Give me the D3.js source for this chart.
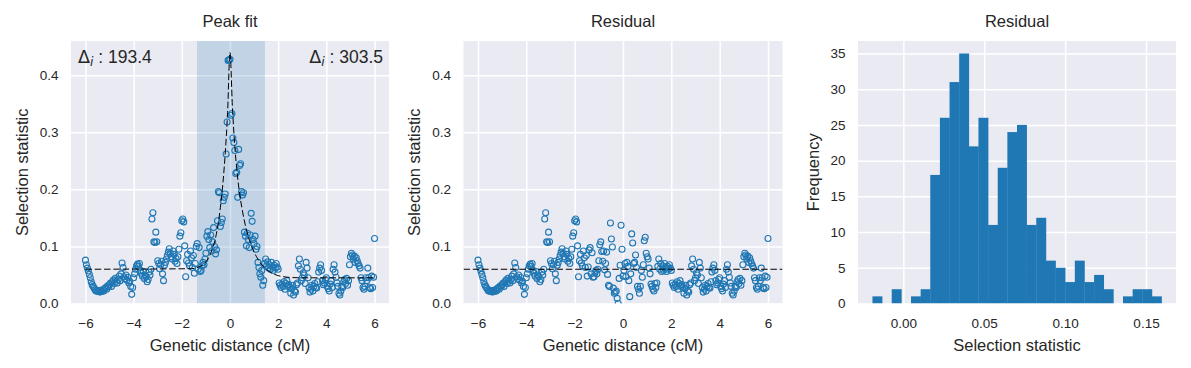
<!DOCTYPE html>
<html><head><meta charset="utf-8">
<script src="https://cdn.jsdelivr.net/npm/d3@7"></script>
<style>
html,body{margin:0;padding:0;background:#fff;}
svg{display:block;font-family:"Liberation Sans",Arial,sans-serif;}
</style></head><body>
<svg id="chart" width="1191" height="368"></svg>
<script>
// ---------------- data ----------------
const distanceCM = [
-6,-5.96,-5.92,-5.88,-5.84,-5.8,-5.76,-5.72,-5.68,-5.64,-5.6,-5.56,-5.52,-5.48,-5.44,-5.4,-5.36,-5.32,-5.28,-5.24,-5.2,-5.16,-5.12,-5.08,-5.04,
-5,-4.96,-4.92,-4.88,-4.84,-4.8,-4.76,-4.72,-4.68,-4.64,-4.6,-4.56,-4.52,-4.48,-4.44,-4.4,-4.36,-4.32,-4.28,-4.24,-4.2,-4.16,-4.12,-4.08,-4.04,
-4,-3.96,-3.92,-3.88,-3.84,-3.8,-3.76,-3.72,-3.68,-3.64,-3.6,-3.56,-3.52,-3.48,-3.44,-3.4,-3.36,-3.32,-3.28,-3.24,-3.2,-3.16,-3.12,-3.08,-3.04,
-3,-2.96,-2.92,-2.88,-2.84,-2.8,-2.76,-2.72,-2.68,-2.64,-2.6,-2.56,-2.52,-2.48,-2.44,-2.4,-2.36,-2.32,-2.28,-2.24,-2.2,-2.16,-2.12,-2.08,-2.04,
-2,-1.96,-1.92,-1.88,-1.84,-1.8,-1.76,-1.72,-1.68,-1.64,-1.6,-1.56,-1.52,-1.48,-1.44,-1.4,-1.36,-1.32,-1.28,-1.24,-1.2,-1.16,-1.12,-1.08,-1.04,
-1,-0.96,-0.92,-0.88,-0.84,-0.8,-0.76,-0.72,-0.68,-0.64,-0.6,-0.56,-0.52,-0.48,-0.44,-0.4,-0.36,-0.32,-0.28,-0.24,-0.2,-0.16,-0.12,-0.08,-0.04,
0,0.04,0.08,0.12,0.16,0.2,0.24,0.28,0.32,0.36,0.4,0.44,0.48,0.52,0.56,0.6,0.64,0.68,0.72,0.76,0.8,0.84,0.88,0.92,0.96,
1,1.04,1.08,1.12,1.16,1.2,1.24,1.28,1.32,1.36,1.4,1.44,1.48,1.52,1.56,1.6,1.64,1.68,1.72,1.76,1.8,1.84,1.88,1.92,1.96,
2,2.04,2.08,2.12,2.16,2.2,2.24,2.28,2.32,2.36,2.4,2.44,2.48,2.52,2.56,2.6,2.64,2.68,2.72,2.76,2.8,2.84,2.88,2.92,2.96,
3,3.04,3.08,3.12,3.16,3.2,3.24,3.28,3.32,3.36,3.4,3.44,3.48,3.52,3.56,3.6,3.64,3.68,3.72,3.76,3.8,3.84,3.88,3.92,3.96,
4,4.04,4.08,4.12,4.16,4.2,4.24,4.28,4.32,4.36,4.4,4.44,4.48,4.52,4.56,4.6,4.64,4.68,4.72,4.76,4.8,4.84,4.88,4.92,4.96,
5,5.04,5.08,5.12,5.16,5.2,5.24,5.28,5.32,5.36,5.4,5.44,5.48,5.52,5.56,5.6,5.64,5.68,5.72,5.76,5.8,5.84,5.88,5.92,5.96,
6];

const peakStat = [
0.076,0.068,0.062,0.057,0.051,0.045,0.038,0.033,0.030,0.027,0.024,0.022,0.023,0.021,0.022,0.020,0.023,0.021,0.024,0.022,0.026,0.028,0.025,0.031,0.029,
0.033,0.036,0.030,0.038,0.041,0.035,0.044,0.039,0.036,0.042,0.048,0.040,0.052,0.071,0.063,0.047,0.043,0.050,0.041,0.046,0.036,0.039,0.030,0.016,0.028,
0.045,0.052,0.060,0.066,0.069,0.065,0.070,0.058,0.053,0.048,0.056,0.044,0.050,0.047,0.038,0.042,0.055,0.050,0.060,0.148,0.159,0.108,0.107,0.125,0.108,
0.075,0.070,0.061,0.068,0.074,0.052,0.040,0.067,0.072,0.078,0.084,0.090,0.096,0.088,0.082,0.078,0.092,0.086,0.074,0.079,0.070,0.082,0.095,0.118,0.124,
0.145,0.148,0.143,0.101,0.047,0.075,0.086,0.071,0.066,0.092,0.080,0.063,0.084,0.053,0.070,0.100,0.105,0.060,0.098,0.056,0.058,0.066,0.072,0.068,0.078,
0.088,0.118,0.126,0.112,0.098,0.120,0.092,0.108,0.133,0.100,0.087,0.094,0.145,0.196,0.194,0.135,0.142,0.148,0.180,0.186,0.192,0.262,0.318,0.426,0.427,
0.428,0.330,0.333,0.290,0.282,0.268,0.228,0.230,0.186,0.270,0.242,0.245,0.196,0.190,0.194,0.125,0.118,0.101,0.123,0.112,0.098,0.120,0.158,0.144,0.112,
0.105,0.118,0.095,0.100,0.072,0.063,0.052,0.046,0.058,0.032,0.040,0.070,0.078,0.066,0.073,0.062,0.068,0.060,0.072,0.064,0.058,0.067,0.062,0.070,0.064,
0.060,0.036,0.032,0.028,0.034,0.030,0.038,0.025,0.035,0.040,0.030,0.033,0.029,0.018,0.026,0.032,0.015,0.022,0.020,0.033,0.036,0.066,0.078,0.060,0.040,
0.045,0.054,0.050,0.035,0.072,0.062,0.045,0.028,0.020,0.025,0.032,0.022,0.030,0.035,0.028,0.027,0.038,0.055,0.062,0.068,0.058,0.040,0.033,0.036,0.042,
0.045,0.030,0.026,0.022,0.034,0.040,0.028,0.060,0.068,0.055,0.046,0.036,0.030,0.018,0.015,0.022,0.030,0.028,0.038,0.042,0.035,0.044,0.032,0.040,0.068,
0.082,0.088,0.085,0.078,0.083,0.072,0.080,0.075,0.070,0.066,0.062,0.045,0.040,0.028,0.025,0.030,0.045,0.040,0.062,0.045,0.028,0.026,0.048,0.028,0.046,
0.114];

const residualStat = [
0.076,0.068,0.062,0.057,0.051,0.045,0.038,0.033,0.030,0.027,0.024,0.022,0.023,0.021,0.022,0.020,0.023,0.021,0.024,0.022,0.026,0.028,0.025,0.031,0.029,
0.033,0.036,0.030,0.038,0.041,0.035,0.044,0.039,0.036,0.042,0.048,0.040,0.052,0.071,0.063,0.047,0.043,0.050,0.041,0.046,0.036,0.039,0.030,0.016,0.028,
0.045,0.052,0.060,0.066,0.069,0.065,0.070,0.058,0.053,0.048,0.056,0.044,0.050,0.047,0.038,0.042,0.055,0.050,0.060,0.148,0.159,0.108,0.107,0.125,0.108,
0.075,0.070,0.061,0.068,0.074,0.052,0.040,0.067,0.072,0.078,0.084,0.090,0.096,0.088,0.082,0.078,0.092,0.086,0.074,0.079,0.070,0.082,0.095,0.118,0.124,
0.145,0.148,0.143,0.101,0.047,0.075,0.086,0.071,0.066,0.092,0.080,0.063,0.084,0.048,0.064,0.094,0.098,0.052,0.089,0.046,0.047,0.054,0.058,0.052,0.060,
0.075,0.103,0.108,0.091,0.074,0.092,0.059,0.070,0.090,0.051,0.032,0.030,0.141,0.113,0.099,0.027,0.018,0.020,0.022,0.009,0.000,0.044,0.067,0.137,0.095,
0.048,0.058,0.070,0.047,0.072,0.065,0.040,0.012,0.052,0.122,0.106,0.070,0.072,0.085,0.063,0.030,0.025,0.018,0.030,0.058,0.046,0.068,0.110,0.116,0.088,
0.082,0.078,0.062,0.052,0.034,0.030,0.025,0.022,0.035,0.028,0.036,0.065,0.078,0.060,0.070,0.056,0.066,0.058,0.070,0.062,0.056,0.065,0.060,0.068,0.062,
0.058,0.036,0.032,0.028,0.034,0.030,0.038,0.025,0.035,0.040,0.030,0.033,0.029,0.018,0.026,0.032,0.015,0.022,0.020,0.033,0.036,0.066,0.078,0.060,0.040,
0.045,0.054,0.050,0.035,0.072,0.062,0.045,0.028,0.020,0.025,0.032,0.022,0.030,0.035,0.028,0.027,0.038,0.055,0.062,0.068,0.058,0.040,0.033,0.036,0.042,
0.045,0.030,0.026,0.022,0.034,0.040,0.028,0.060,0.068,0.055,0.046,0.036,0.030,0.018,0.015,0.022,0.030,0.028,0.038,0.042,0.035,0.044,0.032,0.040,0.068,
0.082,0.088,0.085,0.078,0.083,0.072,0.080,0.075,0.070,0.066,0.062,0.045,0.040,0.028,0.025,0.030,0.045,0.040,0.062,0.045,0.028,0.026,0.048,0.028,0.046,
0.114];

// fitted peak curve
const fitX = [-6,-1.6,-1.2,-1.0,-0.8,-0.6,-0.5,-0.4,-0.3,-0.2,-0.1,0,0.1,0.2,0.3,0.4,0.5,0.7,0.9,1.1,1.4,1.8,2.4,3.0,6];
const fitY = [0.060,0.061,0.066,0.073,0.088,0.115,0.137,0.168,0.208,0.262,0.335,0.440,0.345,0.275,0.228,0.192,0.166,0.126,0.100,0.082,0.064,0.052,0.046,0.045,0.045];

const residualLevel = 0.06;
const sweepRegion = [-1.37, 1.45];
const deltaLeft = "193.4";
const deltaRight = "303.5";

// histogram of residuals
const histLo = -0.0191, histHi = 0.1596;
const histCounts = [1,0,2,0,1,2,18,26,31,35,22,26,11,19,24,25,11,12,6,5,3,6,3,4,2,0,1,2,2,1];

const xTicks = [-6,-4,-2,0,2,4,6];
const yTicks = [0,0.1,0.2,0.3,0.4];
const histXTicks = [0,0.05,0.10,0.15];
const histYTicks = [0,5,10,15,20,25,30,35];

const titles = ["Peak fit","Residual","Residual"];
const xLabels = ["Genetic distance (cM)","Genetic distance (cM)","Selection statistic"];
const yLabels = ["Selection statistic","Selection statistic","Frequency"];

// ---------------- drawing ----------------
const svg = d3.select('#chart');
const TOP = 41, BOT = 303.5;
const BG = '#EAEAF2', BLUE = '#1f77b4', TXT = '#262626';
const TICKFS = 13.5, LABFS = 16.5;
const DASH = '6.5,2.8';

function makePanel(idx, x0, x1, xdom, ydom, xt, yt, xfmt, yfmt, ylabOff){
  const g = svg.append('g');
  const xs = d3.scaleLinear().domain(xdom).range([x0, x1]);
  const ys = d3.scaleLinear().domain(ydom).range([BOT, TOP]);
  g.append('rect').attr('x', x0).attr('y', TOP).attr('width', x1 - x0).attr('height', BOT - TOP).attr('fill', BG);
  const gx = g.append('g').attr('transform', `translate(0,${BOT})`)
    .call(d3.axisBottom(xs).tickValues(xt).tickFormat(xfmt).tickSize(-(BOT - TOP)).tickPadding(15));
  const gy = g.append('g').attr('transform', `translate(${x0},0)`)
    .call(d3.axisLeft(ys).tickValues(yt).tickFormat(yfmt).tickSize(-(x1 - x0)).tickPadding(12.5));
  [gx, gy].forEach(a => {
    a.select('.domain').remove();
    a.selectAll('line').attr('stroke', '#fff').attr('stroke-width', 1.5);
    a.selectAll('text').attr('fill', TXT).style('font-size', TICKFS + 'px')
      .style('font-family', '"Liberation Sans",Arial,sans-serif');
  });
  svg.append('text').attr('x', (x0 + x1) / 2).attr('y', 27).attr('text-anchor', 'middle')
    .attr('fill', TXT).style('font-size', LABFS + 'px').text(titles[idx]);
  svg.append('text').attr('x', (x0 + x1) / 2).attr('y', 351).attr('text-anchor', 'middle')
    .attr('fill', TXT).style('font-size', LABFS + 'px').text(xLabels[idx]);
  svg.append('text').attr('transform', `translate(${x0 - ylabOff},${(TOP + BOT) / 2}) rotate(-90)`)
    .attr('text-anchor', 'middle').attr('fill', TXT).style('font-size', LABFS + 'px').text(yLabels[idx]);
  const cid = 'clip' + idx;
  svg.append('clipPath').attr('id', cid).append('rect')
    .attr('x', x0).attr('y', TOP).attr('width', x1 - x0).attr('height', BOT - TOP);
  const plot = svg.append('g').attr('clip-path', `url(#${cid})`);
  return {xs, ys, plot};
}

const fmt1 = d3.format('.1f');
const scatterDom = [-6.6, 6.6], statDom = [0, 0.46];

// Panel 1: Peak fit
{
  const {xs, ys, plot} = makePanel(0, 71, 389, scatterDom, statDom, xTicks, yTicks, d3.format('d'), fmt1, 43.5);
  plot.append('rect').attr('x', xs(sweepRegion[0])).attr('y', TOP)
    .attr('width', xs(sweepRegion[1]) - xs(sweepRegion[0])).attr('height', BOT - TOP)
    .attr('fill', BLUE).attr('fill-opacity', 0.2);
  plot.selectAll('circle').data(distanceCM).join('circle')
    .attr('cx', d => xs(d)).attr('cy', (d, i) => ys(peakStat[i])).attr('r', 3)
    .attr('fill', 'none').attr('stroke', BLUE).attr('stroke-width', 1.1);
  const line = d3.line().x(d => xs(d[0])).y(d => ys(d[1])).curve(d3.curveMonotoneX);
  plot.append('path').datum(fitX.map((x, i) => [x, fitY[i]])).attr('d', line)
    .attr('fill', 'none').attr('stroke', '#000').attr('stroke-width', 1).attr('stroke-dasharray', DASH);
  const AFS = 17.5;
  const addDelta = (x, anchor, val) => {
    const t = svg.append('text').attr('x', x).attr('y', 63).attr('text-anchor', anchor)
      .attr('fill', TXT).style('font-size', AFS + 'px');
    t.append('tspan').style('font-family', '"DejaVu Sans",sans-serif').text('Δ');
    t.append('tspan').style('font-family', '"DejaVu Sans",sans-serif').style('font-style', 'italic')
      .style('font-size', (AFS * 0.7) + 'px').attr('dy', 3).text('i');
    t.append('tspan').attr('dy', -3).text(' : ' + val);
  };
  addDelta(78, 'start', deltaLeft);
  addDelta(383, 'end', deltaRight);
}

// Panel 2: Residual scatter
{
  const {xs, ys, plot} = makePanel(1, 463.5, 782.5, scatterDom, statDom, xTicks, yTicks, d3.format('d'), fmt1, 43.5);
  plot.selectAll('circle').data(distanceCM).join('circle')
    .attr('cx', d => xs(d)).attr('cy', (d, i) => ys(residualStat[i])).attr('r', 3)
    .attr('fill', 'none').attr('stroke', BLUE).attr('stroke-width', 1.1);
  plot.append('line').attr('x1', xs(scatterDom[0])).attr('x2', xs(scatterDom[1]))
    .attr('y1', ys(residualLevel)).attr('y2', ys(residualLevel))
    .attr('stroke', '#000').attr('stroke-width', 1).attr('stroke-dasharray', DASH);
}

// Panel 3: histogram
{
  const span = histHi - histLo, pad = span * 0.05;
  const ymax = d3.max(histCounts) * 1.05;
  const {xs, ys, plot} = makePanel(2, 858, 1176, [histLo - pad, histHi + pad], [0, ymax],
    histXTicks, histYTicks, d3.format('.2f'), d3.format('d'), 39);
  const bw = span / histCounts.length;
  plot.selectAll('rect.bar').data(histCounts).join('rect').attr('class', 'bar')
    .attr('x', (d, i) => xs(histLo + i * bw))
    .attr('width', (d, i) => xs(histLo + (i + 1) * bw) - xs(histLo + i * bw) + 0.3)
    .attr('y', d => ys(d)).attr('height', d => BOT - ys(d))
    .attr('fill', BLUE);
}
</script>
</body></html>
